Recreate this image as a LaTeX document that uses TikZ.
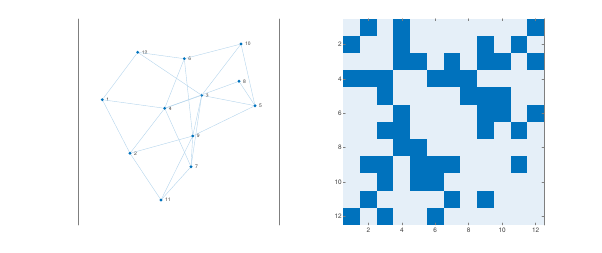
\documentclass[tikz,border=0pt]{standalone}
\usepackage{fontspec}
\setmainfont{TeX Gyre Heros}
\usepackage{tikz}
\definecolor{matblue}{HTML}{0072BD}
\definecolor{matlight}{HTML}{E5EFF8}
\definecolor{edgeblue}{HTML}{B5D5EC}
\definecolor{axisgray}{HTML}{7F7F7F}
\definecolor{ticktext}{HTML}{404040}
\tikzset{
  every picture/.style={
    line join=round,
    line cap=round,
  },
  vertex/.style={circle, fill=matblue, inner sep=0pt, minimum size=2.7pt},
  vlabel/.style={font=\fontsize{4.3}{4.3}\selectfont, text=ticktext, inner sep=0.8pt},
  graphedge/.style={edgeblue, line width=0.35pt},
  axisline/.style={axisgray, line width=0.55pt},
  ticklabel/.style={font=\fontsize{5.5}{6}\selectfont, text=ticktext},
}

\begin{document}
\begin{tikzpicture}[x=0.03cm, y=-0.03cm]
\useasboundingbox (0,0) rectangle (602,253);
% graph panel
\draw[axisline] (78.3,19) -- (78.3,225);
\draw[axisline] (279.3,19) -- (279.3,225);
\foreach \n/\px/\py in {1/102.3/99.7, 2/130/153.3, 3/201.7/95.3, 4/164.7/108.3,
    5/255/105.7, 6/184.3/58.7, 7/191/166.7, 8/239/81.3, 9/192.7/136,
    10/241/44, 11/161/200, 12/137.7/52.3}
  \node[vertex, label={[vlabel, label distance=1pt]right:\n}] (v\n) at (\px,\py) {};
\foreach \a/\b in {1/2, 1/4, 1/12, 2/4, 2/9, 2/11, 3/4, 3/5, 3/7, 3/9, 3/10, 3/12,
    4/6, 4/7, 4/8, 5/8, 5/9, 5/10, 6/9, 6/10, 6/12, 7/9, 7/11, 9/11}
  \draw[graphedge] (v\a) -- (v\b);
% adjacency matrix panel
\begin{scope}[xshift=10.299cm, yshift=-0.561cm, x=0.5016cm, y=-0.5157cm]
  \fill[matlight] (0,0) rectangle (12,12);
  \foreach \r/\cols in {1/{2,4,12}, 2/{1,4,9,11}, 3/{4,5,7,9,10,12},
      4/{1,2,3,6,7,8}, 5/{3,8,9,10}, 6/{4,9,10,12}, 7/{3,4,9,11},
      8/{4,5}, 9/{2,3,5,6,7,11}, 10/{3,5,6}, 11/{2,7,9}, 12/{1,3,6}}
    \foreach \c in \cols
      \fill[matblue] (\c-1,\r-1) rectangle (\c,\r);
  \draw[axisline] (12,0) -- (12,12);
  \foreach \k in {2,4,...,12} {
    \draw[axisgray, line width=0.4pt] (\k-0.5,12) -- ++(0,-0.12);
    \draw[axisgray, line width=0.4pt] (\k-0.5,0) -- ++(0,0.12);
    \draw[axisgray, line width=0.4pt] (0,\k-0.5) -- ++(0.12,0);
    \draw[axisgray, line width=0.4pt] (12,\k-0.5) -- ++(-0.12,0);
    \node[ticklabel, below, inner sep=2.6pt] (bx\k) at (\k-0.5,12) {\k};
    \node[ticklabel, left, inner sep=1.2pt] (ly\k) at (0,\k-0.5) {\k};
  }
\end{scope}
\end{tikzpicture}
\end{document}
